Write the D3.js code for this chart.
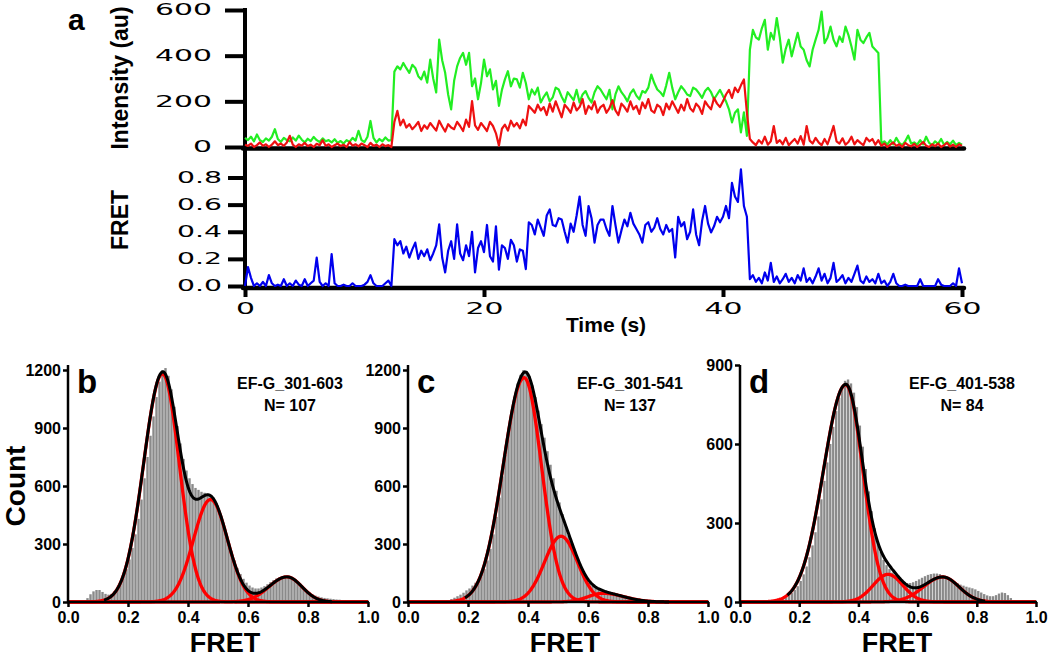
<!DOCTYPE html>
<html><head><meta charset="utf-8">
<script src="https://cdn.jsdelivr.net/npm/d3@7"></script>
<style>body{margin:0;background:#fff}svg{display:block}</style>
</head><body>
<svg id="chart" width="1050" height="661"></svg>
<script>
// ---------------- DATA ----------------
const timeStep = 0.25; // s between samples
const donor = [
40,30,45,25,55,30,22,38,28,45, 78,35,22,40,30,25,42,28,50,32, 20,36,26,44,30,22,38,25,30,20, 34,18,26,15,30,22,40,28,71,30, 22,45,114,40,20,35,25,42,28,30,
330,353,340,368,345,325,360,346,310,296, 330,282,383,300,239,470,380,325,230,165, 290,353,390,412,360,412,266,300,209,280,
383,310,340,252,290,180,250,296,332,266, 300,296,260,325,280,209,252,230,260,195, 220,239,200,217,260,252,220,195,240,223,
205,250,195,230,245,215,195,240,266,252, 230,209,250,165,230,266,240,223,200,235, 252,225,209,245,238,260,317,280,252,240,
223,270,325,260,209,240,266,250,230,223, 260,252,235,215,245,259,240,209,230,250, 223,200,165,108,150,165,64,152,49,
426,513,480,470,520,557,426,500,470,565, 480,369,430,470,397,450,500,440,426,380, 353,426,470,513,593,455,480,527,470,441,
484,460,527,490,440,383,513,470,455,480, 500,440,426,412,
15,25,10,30,12,40,18,8,25,50, 15,20,10,30,12,45,18,8,25,14, 35,10,22,12,28,8,18,10
];
const acceptor = [
10,5,15,0,8,20,5,12,0,10, 25,8,15,5,20,49,10,0,12,6, 18,4,10,0,14,8,30,5,12,0, 8,15,4,10,0,22,6,12,3,15, 8,0,18,5,10,0,12,4,8,0,
110,158,95,120,85,100,78,92,110,70, 95,80,105,88,72,115,90,68,100,85, 78,110,92,70,120,88,201,95,75,105,
88,70,110,92,60,6,80,98,72,115, 90,105,82,120,95,180,165,150,185,160, 175,140,190,155,200,165,130,185,170,150,
195,160,175,210,145,180,165,200,150,175, 185,150,170,205,160,140,190,175,155,200, 165,180,145,195,170,210,160,150,185,175,
140,190,165,200,175,150,185,160,210,170, 155,190,175,145,200,180,165,215,190,175, 200,230,250,215,260,240,270,296,150,
35,20,8,30,15,45,10,25,92,18, 30,12,40,8,22,35,15,48,10,92, 28,15,40,20,8,35,12,50,92,25,
15,38,10,22,45,12,30,18,8,40, 25,35,10,30,
5,15,0,10,20,5,12,0,18,8, 3,14,0,10,22,6,0,12,4,15, 0,8,18,2,10,0,12,5
];
const fret = [
0,0.14,0.06,0,0.02,0,0.03,0,0.08,0.02, 0,0.01,0,0.05,0,0.02,0,0.04,0.01,0, 0.05,0,0.02,0.04,0.21,0.03,0,0.02,0,0.235,
0.02,0,0,0.01,0,0,0.02,0,0,0, 0.01,0.03,0.08,0.02,0,0,0,0.02,0.04,0,
0.345,0.30,0.33,0.24,0.29,0.21,0.27,0.32,0.20,0.26, 0.22,0.27,0.19,0.24,0.30,0.455,0.21,0.10,0.26,0.33,
0.20,0.455,0.24,0.19,0.30,0.22,0.40,0.10,0.28,0.33, 0.25,0.45,0.22,0.18,0.44,0.12,0.30,0.28,0.20,0.34,
0.30,0.18,0.27,0.26,0.125,0.47,0.45,0.38,0.49,0.43, 0.37,0.52,0.565,0.45,0.44,0.50,0.49,0.40,0.32,0.46,
0.40,0.52,0.66,0.45,0.37,0.59,0.50,0.32,0.45,0.49, 0.49,0.42,0.37,0.59,0.45,0.32,0.41,0.49,0.44,0.54,
0.46,0.42,0.38,0.32,0.45,0.47,0.40,0.43,0.50,0.42, 0.38,0.45,0.40,0.42,0.21,0.51,0.44,0.47,0.345,0.40,
0.565,0.38,0.30,0.48,0.59,0.46,0.395,0.44,0.51,0.47, 0.51,0.59,0.50,0.76,0.66,0.62,0.86,0.59,0.51,
0.05,0.08,0.03,0.06,0.02,0.10,0.04,0.17,0.03,0.07, 0.02,0.05,0.09,0.03,0.06,0.02,0.08,0.04,0.13,0.03,
0.06,0.02,0.07,0.13,0.04,0.09,0.02,0.06,0.17,0.03, 0.05,0.08,0.02,0.06,0.03,0.09,0.15,0.04,0.02,0.07,
0.03,0.05,0.02,0.09,
0.02,0.04,0,0.03,0.09,0.02,0,0,0.01,0, 0,0,0,0.05,0,0,0,0,0,0.05, 0.01,0,0,0,0.02,0,0.13,0.02
];
const intensityTicks = [0, 200, 400, 600];
const fretTicks = [0, 0.2, 0.4, 0.6, 0.8];
const timeTicks = [0, 20, 40, 60];

// histograms: 100 bins of width 0.01 on FRET 0..1
const binWidth = 0.01;
const histB = [
0,0,0,0,0,5,20,40,55,62, 62,52,42,38,42,55,75,100,130,170,
220,280,350,430,530,640,750,860,960,1060, 1140,1200,1210,1170,1100,1010,910,820,740,680,
640,610,590,580,570,565,560,555,540,510, 470,420,365,310,260,215,175,145,120,100,
85,75,70,70,75,82,92,103,113,122, 128,132,133,130,124,115,103,90,76,62,
50,40,33,28,24,21,19,17,15,13, 12,10,8,6,4,3,2,1,0,0
];
const histC = [
0,0,0,0,0,0,0,0,0,0, 0,2,5,10,15,22,30,38,48,60,
70,85,100,118,140,170,215,275,350,440, 540,650,760,870,970,1060,1130,1175,1200,1195,
1170,1120,1060,990,920,850,780,710,640,575, 515,455,400,345,295,250,210,175,145,120,
100,85,75,68,62,58,55,52,48,44, 40,36,32,28,24,20,16,12,9,6,
4,3,2,1,0,0,0,0,0,0, 0,0,0,0,0,0,0,0,0,0
];
const histD = [
0,0,0,0,0,0,0,0,0,0, 2,4,6,9,13,18,25,34,46,60,
80,105,135,170,215,265,325,390,460,530, 600,665,725,775,815,840,845,830,795,740,
670,590,505,420,345,280,230,190,160,140, 125,112,100,90,82,75,72,72,75,80,
86,92,98,103,106,108,108,106,102,96, 90,84,78,72,66,62,58,55,52,48,
42,36,30,25,22,22,26,32,36,34, 26,15,6,2,0,0,0,0,0,0
];
// Gaussian fit components: [amplitude, centre, sigma left, sigma right]
const fitB = [[1180,0.315,0.063,0.056],[530,0.475,0.057,0.057],[130,0.73,0.06,0.05]];
const fitC = [[1160,0.387,0.07,0.058],[340,0.51,0.055,0.055],[45,0.65,0.05,0.07]];
const fitD = [[825,0.357,0.075,0.058],[105,0.50,0.05,0.05],[95,0.685,0.065,0.055]];
const sumRangeB = [0.12,0.88], sumRangeC = [0.19,0.87], sumRangeD = [0.16,0.83];
const countTicksBC = [0,300,600,900,1200];
const countTicksD = [0,300,600,900];
const fretHistTicks = [0,0.2,0.4,0.6,0.8,1.0];

// ---------------- DRAW ----------------
const svg = d3.select("#chart");
const BOLD = "'Liberation Sans', Arial, sans-serif";
const WIDE = "'DejaVu Sans', sans-serif";

function stretch(sel){
  sel.each(function(){
    const s = this.textContent;
    const w = [...s].reduce((a,c)=>a+(c==='.'?7:19),0);
    d3.select(this).attr("textLength", w).attr("lengthAdjust","spacingAndGlyphs");
  });
}

// ----- panel a -----
const xT = d3.scaleLinear().domain([0,60]).range([245,962]);
const yI = d3.scaleLinear().domain([0,600]).range([147,10]);
const yF = d3.scaleLinear().domain([0,0.8]).range([286,177.5]);

function styleTopAxis(g){
  g.select(".domain").remove();
  g.selectAll(".tick line").attr("stroke","#000").attr("stroke-width",4);
  g.selectAll(".tick text").attr("font-family",WIDE).attr("font-size",15).attr("fill","#000").call(stretch);
}

const gI = svg.append("g").attr("transform","translate(245,0)")
  .call(d3.axisLeft(yI).tickValues(intensityTicks).tickSize(20).tickPadding(13).tickFormat(d3.format("d")));
styleTopAxis(gI);
const gF = svg.append("g").attr("transform","translate(245,0)")
  .call(d3.axisLeft(yF).tickValues(fretTicks).tickSize(17).tickPadding(6).tickFormat(d3.format(".1f")));
styleTopAxis(gF);
const gT = svg.append("g").attr("transform","translate(0,288)")
  .call(d3.axisBottom(xT).tickValues(timeTicks).tickSize(9).tickPadding(6).tickFormat(d3.format("d")));
styleTopAxis(gT);

// axis lines
svg.append("line").attr("x1",245).attr("x2",245).attr("y1",8).attr("y2",290).attr("stroke","#000").attr("stroke-width",4);
svg.append("line").attr("x1",243).attr("x2",964).attr("y1",148.5).attr("y2",148.5).attr("stroke","#000").attr("stroke-width",4.5).attr("stroke-linecap","round");
svg.append("line").attr("x1",243).attr("x2",964).attr("y1",288).attr("y2",288).attr("stroke","#000").attr("stroke-width",4.5).attr("stroke-linecap","round");

const ptsD = donor.map((v,i)=>({t:i*timeStep,v}));
const ptsA = acceptor.map((v,i)=>({t:i*timeStep,v}));
const ptsF = fret.map((v,i)=>({t:i*timeStep,v}));
const lineI = d3.line().x(d=>xT(d.t)).y(d=>yI(d.v));
const lineF = d3.line().x(d=>xT(d.t)).y(d=>yF(d.v));
svg.append("path").datum(ptsD).attr("d",lineI).attr("fill","none").attr("stroke","#22ee22").attr("stroke-width",2.2).attr("stroke-linejoin","round");
svg.append("path").datum(ptsA).attr("d",lineI).attr("fill","none").attr("stroke","#ee1111").attr("stroke-width",2.2).attr("stroke-linejoin","round");
svg.append("path").datum(ptsF).attr("d",lineF).attr("fill","none").attr("stroke","#0000ee").attr("stroke-width",2.2).attr("stroke-linejoin","round");

svg.append("text").attr("x",68).attr("y",30).text("a").attr("font-family",BOLD).attr("font-weight","bold").attr("font-size",30);
svg.append("text").attr("transform","translate(128,78) rotate(-90)").attr("text-anchor","middle").text("Intensity (au)")
  .attr("font-family",BOLD).attr("font-weight","bold").attr("font-size",23);
svg.append("text").attr("transform","translate(128,220) rotate(-90)").attr("text-anchor","middle").text("FRET")
  .attr("font-family",BOLD).attr("font-weight","bold").attr("font-size",23);
svg.append("text").attr("x",606).attr("y",332).attr("text-anchor","middle").text("Time (s)")
  .attr("font-family",BOLD).attr("font-weight","bold").attr("font-size",21);

// ----- histogram panels -----
function model(comps, x){
  return d3.sum(comps, c=>{
    const s = x < c[1] ? c[2] : c[3];
    return c[0]*Math.exp(-((x-c[1])**2)/(2*s*s));
  });
}
function histPanel(x0, w, hist, comps, sumRange, yMax, yTop, yTicks, letter, name, n){
  const xs = d3.scaleLinear().domain([0,1]).range([x0, x0+w]);
  const ys = d3.scaleLinear().domain([0,yMax]).range([602, yTop]);
  const g = svg.append("g");
  g.selectAll("rect").data(hist).join("rect")
    .attr("x",(d,i)=>xs(i*binWidth)+0.3)
    .attr("width",xs(binWidth)-xs(0)-0.6)
    .attr("y",d=>ys(d)).attr("height",d=>ys(0)-ys(d))
    .attr("fill","#8a8a8a");
  const grid = d3.range(0,1.0001,0.002);
  const ln = d3.line().x(d=>xs(d[0])).y(d=>ys(d[1]));
  comps.forEach(c=>{
    g.append("path").datum(grid.map(x=>[x, model([c],x)])).attr("d",ln)
      .attr("fill","none").attr("stroke","#ff0000").attr("stroke-width",3.3).attr("stroke-linejoin","round");
  });
  const sgrid = grid.filter(x=>x>=sumRange[0] && x<=sumRange[1]);
  g.append("path").datum(sgrid.map(x=>[x, model(comps,x)])).attr("d",ln)
    .attr("fill","none").attr("stroke","#000").attr("stroke-width",3).attr("stroke-linejoin","round");
  const ya = svg.append("g").attr("transform",`translate(${x0},0)`)
    .call(d3.axisLeft(ys).tickValues(yTicks).tickSize(5).tickPadding(2).tickFormat(d3.format("d")));
  const xa = svg.append("g").attr("transform","translate(0,602)")
    .call(d3.axisBottom(xs).tickValues(fretHistTicks).tickSize(5).tickPadding(5).tickFormat(d3.format(".1f")));
  [ya,xa].forEach(a=>{
    a.select(".domain").remove();
    a.selectAll(".tick line").attr("stroke","#000").attr("stroke-width",2.5);
    a.selectAll(".tick text").attr("font-family",BOLD).attr("font-weight","bold").attr("font-size",16).attr("fill","#000");
  });
  svg.append("line").attr("x1",x0).attr("x2",x0).attr("y1",365).attr("y2",603).attr("stroke","#000").attr("stroke-width",2.5);
  svg.append("line").attr("x1",x0-1).attr("x2",x0+w+1).attr("y1",602).attr("y2",602).attr("stroke","#000").attr("stroke-width",2.5);
  svg.append("text").attr("x",x0+9).attr("y",393).text(letter)
    .attr("font-family",BOLD).attr("font-weight","bold").attr("font-size",33);
  const cx = x0 + 222;
  svg.append("text").attr("x",cx).attr("y",389).attr("text-anchor","middle").text(name)
    .attr("font-family",BOLD).attr("font-weight","bold").attr("font-size",16);
  svg.append("text").attr("x",cx).attr("y",411).attr("text-anchor","middle").text(n)
    .attr("font-family",BOLD).attr("font-weight","bold").attr("font-size",16);
  svg.append("text").attr("x",x0+157).attr("y",652).attr("text-anchor","middle").text("FRET")
    .attr("font-family",BOLD).attr("font-weight","bold").attr("font-size",27);
}
histPanel(68, 300, histB, fitB, sumRangeB, 1200, 370, countTicksBC, "b", "EF-G_301-603", "N= 107");
histPanel(408, 300, histC, fitC, sumRangeC, 1200, 370, countTicksBC, "c", "EF-G_301-541", "N= 137");
histPanel(740, 296, histD, fitD, sumRangeD, 900, 365, countTicksD, "d", "EF-G_401-538", "N= 84");

svg.append("text").attr("transform","translate(25,486) rotate(-90)").attr("text-anchor","middle").text("Count")
  .attr("font-family",BOLD).attr("font-weight","bold").attr("font-size",28);
</script>
</body></html>
